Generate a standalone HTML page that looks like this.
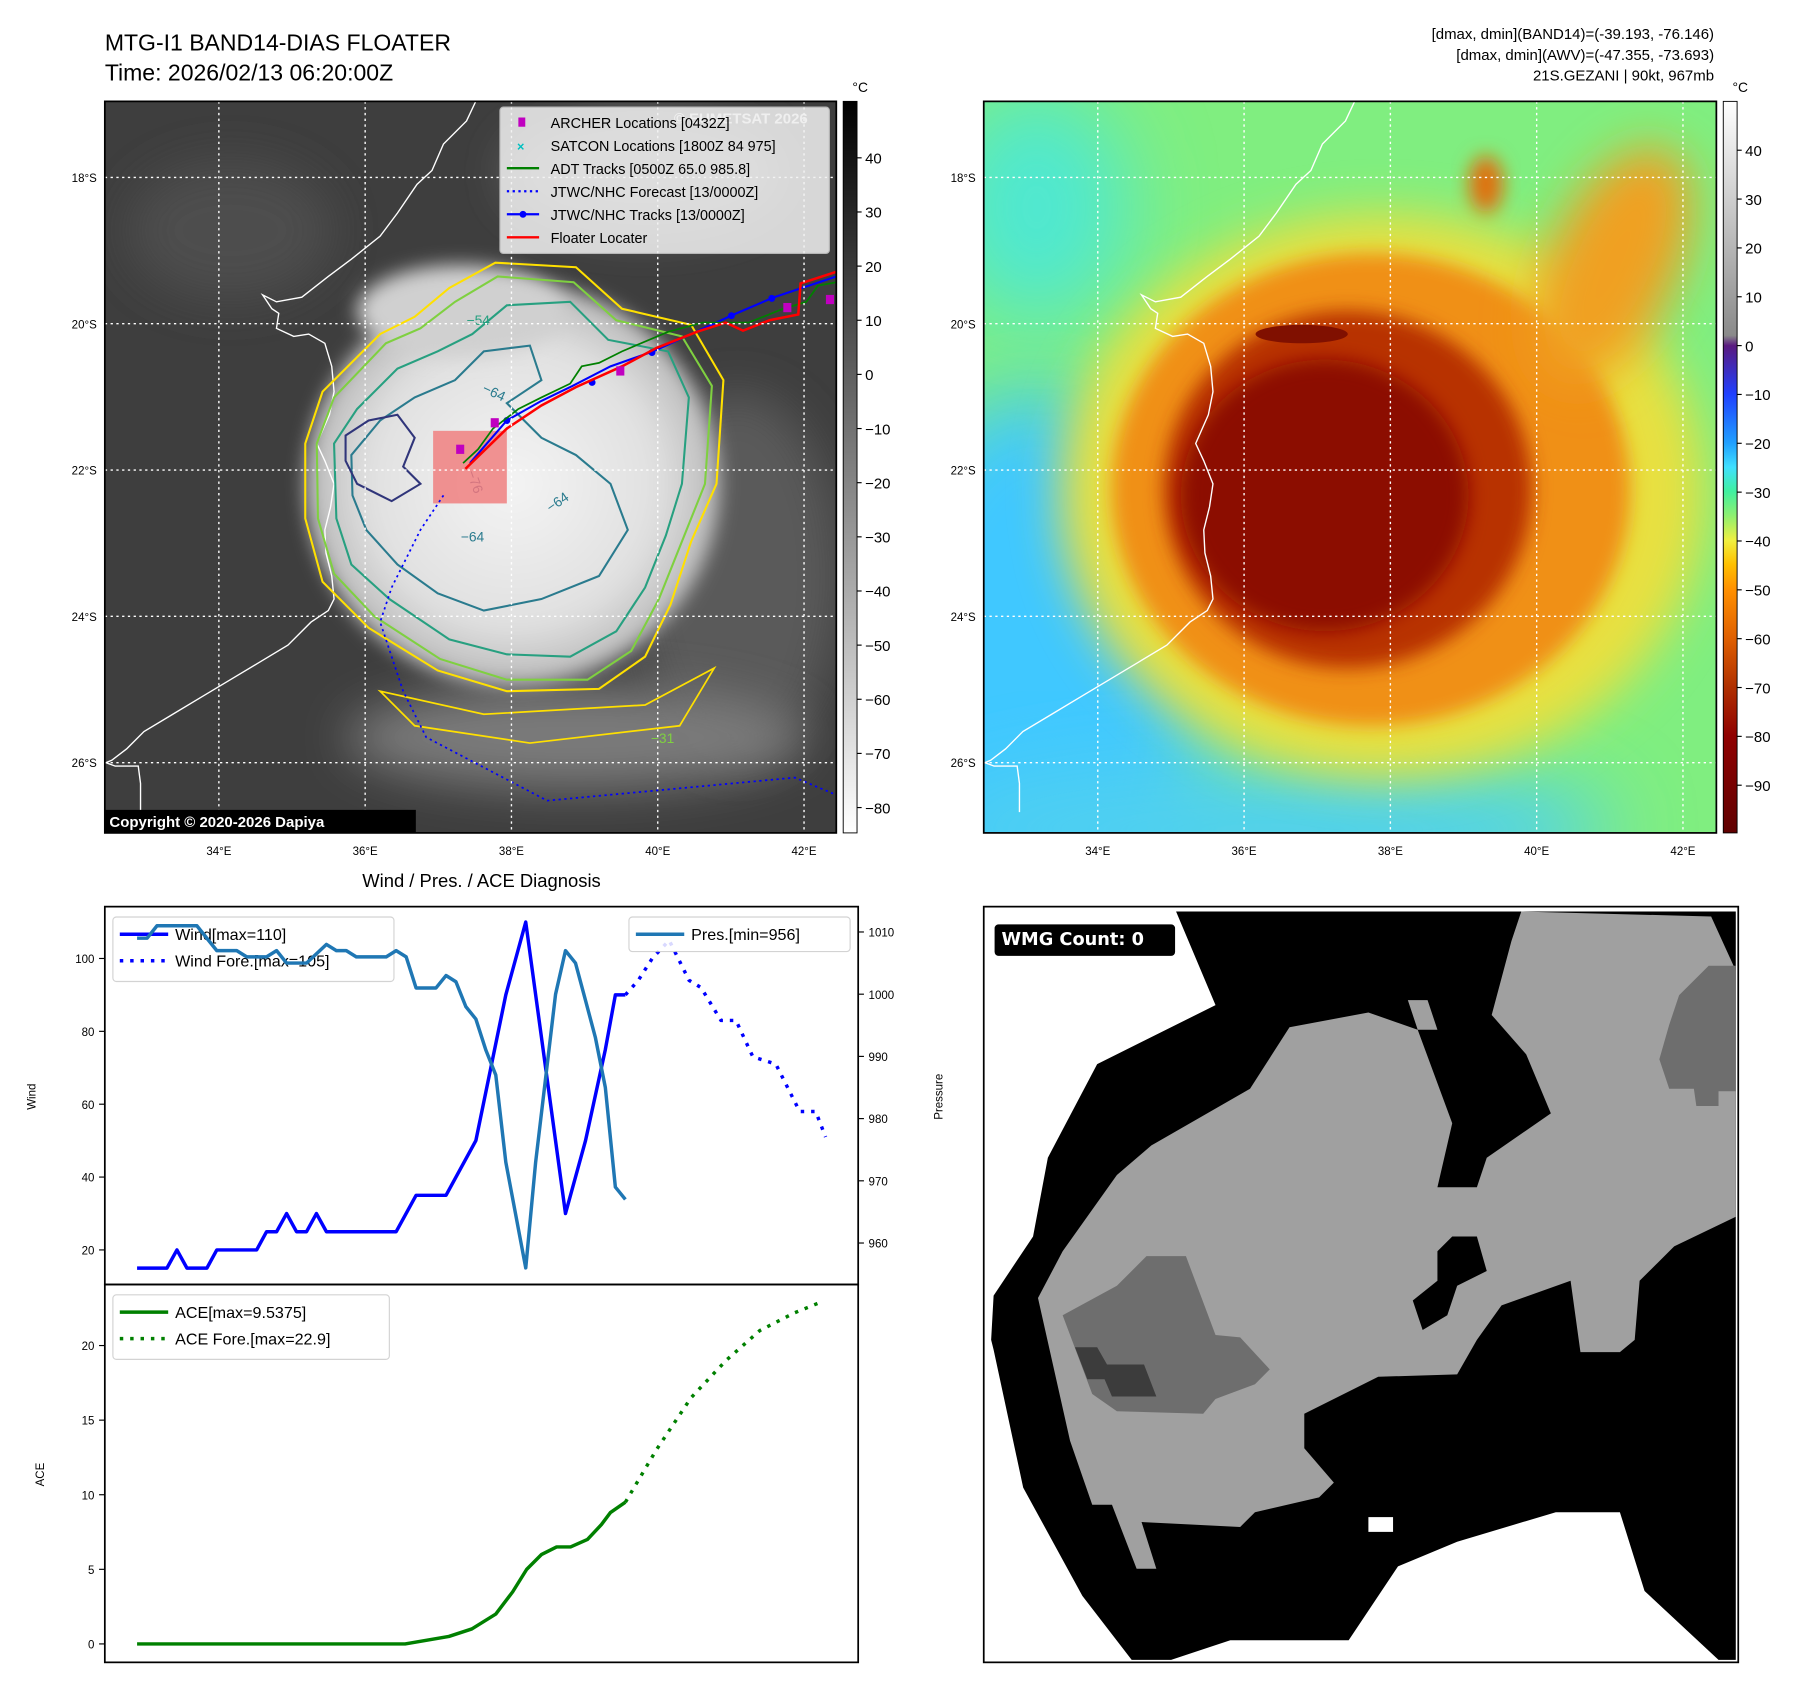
<!DOCTYPE html>
<html><head><meta charset="utf-8">
<style>
html,body{margin:0;padding:0;background:#fff;}
svg{display:block;font-family:"Liberation Sans","DejaVu Sans",sans-serif;}
</style></head>
<body>
<svg id="root" width="1797" height="1690" viewBox="0 0 1560 1467" preserveAspectRatio="none" xmlns="http://www.w3.org/2000/svg">
<defs>
<clipPath id="clipL"><rect x="91" y="88" width="635" height="635"/></clipPath>
<clipPath id="clipR"><rect x="854" y="88" width="636" height="635"/></clipPath>
<clipPath id="clipW"><rect x="91" y="787" width="654" height="328"/></clipPath>
<clipPath id="clipA"><rect x="91" y="1115" width="654" height="328"/></clipPath>
<filter id="b8" x="-50%" y="-50%" width="200%" height="200%"><feGaussianBlur stdDeviation="8"/></filter>
<filter id="b20" x="-50%" y="-50%" width="200%" height="200%"><feGaussianBlur stdDeviation="20"/></filter>
<filter id="b35" x="-50%" y="-50%" width="200%" height="200%"><feGaussianBlur stdDeviation="35"/></filter>
<linearGradient id="cbL" x1="0" y1="0" x2="0" y2="1"><stop offset="0" stop-color="#000"/><stop offset="1" stop-color="#fff"/></linearGradient>
<linearGradient id="cbR" x1="0" y1="0" x2="0" y2="1">
<stop offset="0" stop-color="#ffffff"/><stop offset="0.32" stop-color="#8a8a8a"/><stop offset="0.334" stop-color="#5a1a80"/>
<stop offset="0.4" stop-color="#2040ff"/><stop offset="0.467" stop-color="#20a0ff"/><stop offset="0.5" stop-color="#40e0ff"/>
<stop offset="0.533" stop-color="#40f0a0"/><stop offset="0.567" stop-color="#90f070"/><stop offset="0.6" stop-color="#f0f040"/>
<stop offset="0.633" stop-color="#ffc000"/><stop offset="0.667" stop-color="#ff9000"/><stop offset="0.733" stop-color="#e06000"/>
<stop offset="0.8" stop-color="#b03000"/><stop offset="0.867" stop-color="#900000"/><stop offset="1" stop-color="#600000"/></linearGradient>
<radialGradient id="cloud" cx="0.5" cy="0.5" r="0.5"><stop offset="0" stop-color="#f4f4f4"/><stop offset="0.7" stop-color="#e0e0e0"/><stop offset="1" stop-color="#b8b8b8"/></radialGradient>
<path id="coast" d="M413,88 L405,105 L385,125 L375,148 L362,160 L345,185 L330,205 L305,225 L285,240 L262,258 L240,262 L228,256 L236,268 L242,272 L240,285 L255,292 L268,290 L282,298 L288,318 L290,340 L286,360 L275,385 L282,400 L290,420 L287,440 L282,460 L283,480 L288,500 L290,520 L285,530 L270,540 L250,560 L225,575 L200,590 L175,605 L150,620 L125,635 L110,650 L97,660 L92,662 L100,665 L120,665 L122,680 L122,705" fill="none" stroke="#fff" stroke-width="1.2"/>
</defs>

<text x="91" y="44" font-size="20">MTG-I1 BAND14-DIAS FLOATER</text>
<text x="91" y="70" font-size="20">Time: 2026/02/13 06:20:00Z</text>
<text x="1488" y="34" font-size="13" text-anchor="end">[dmax, dmin](BAND14)=(-39.193, -76.146)</text>
<text x="1488" y="52" font-size="13" text-anchor="end">[dmax, dmin](AWV)=(-47.355, -73.693)</text>
<text x="1488" y="70" font-size="13" text-anchor="end">21S.GEZANI | 90kt, 967mb</text>

<g clip-path="url(#clipL)">
<rect x="91" y="88" width="635" height="635" fill="#3e3e3e"/>
<ellipse cx="200" cy="200" rx="90" ry="60" fill="#4e4e4e" filter="url(#b20)"/>
<ellipse cx="560" cy="150" rx="120" ry="50" fill="#6a6a6a" filter="url(#b20)"/>
<ellipse cx="640" cy="500" rx="90" ry="160" fill="#5a5a5a" filter="url(#b20)"/>
<ellipse cx="500" cy="640" rx="200" ry="45" fill="#7a7a7a" filter="url(#b20)"/>
<ellipse cx="445" cy="420" rx="180" ry="175" fill="url(#cloud)" filter="url(#b8)"/>
<ellipse cx="400" cy="270" rx="90" ry="40" fill="#d0d0d0" filter="url(#b8)"/>
<use href="#coast"/>
<path d="M265,385 L280,340 L330,290 L360,275 L390,250 L430,228 L500,232 L540,268 L600,282 L628,330 L622,420 L600,470 L582,525 L560,570 L520,598 L440,600 L380,582 L320,545 L280,505 L265,450 Z" fill="none" stroke="#ffe000" stroke-width="1.8"/>
<path d="M330,600 L420,620 L560,612 L620,580 L590,630 L460,645 L360,630 Z" fill="none" stroke="#ffe000" stroke-width="1.5"/>
<path d="M275,385 L290,345 L335,298 L365,285 L395,262 L432,240 L498,245 L535,278 L592,292 L618,335 L612,420 L592,470 L572,520 L548,565 L510,590 L440,590 L382,572 L325,535 L290,498 L276,450 Z" fill="none" stroke="#7fd040" stroke-width="1.8"/>
<path d="M290,385 L310,355 L345,320 L380,305 L410,290 L440,265 L495,262 L528,295 L580,305 L598,345 L592,420 L578,465 L560,510 L535,548 L495,570 L440,568 L390,555 L338,520 L305,490 L292,450 Z" fill="none" stroke="#27a080" stroke-width="1.8"/>
<path d="M305,395 L330,365 L360,345 L395,330 L420,305 L460,300 L470,330 L440,350 L470,380 L500,395 L530,420 L545,460 L520,500 L470,520 L420,530 L380,515 L345,490 L318,460 L306,430 Z" fill="none" stroke="#2a7b8e" stroke-width="1.8"/>
<path d="M300,378 L320,365 L345,360 L360,380 L350,405 L365,420 L340,435 L310,420 L300,400 Z" fill="none" stroke="#30357a" stroke-width="1.8"/>
<text x="405" y="282" font-size="12" fill="#27a080">−54</text>
<text x="418" y="340" font-size="12" fill="#2a7b8e" transform="rotate(25 418 340)">−64</text>
<text x="400" y="470" font-size="12" fill="#2a7b8e">−64</text>
<text x="478" y="445" font-size="12" fill="#2a7b8e" transform="rotate(-35 478 445)">−64</text>
<text x="405" y="410" font-size="12" fill="#30357a" transform="rotate(70 405 410)">−76</text>
<text x="565" y="645" font-size="12" fill="#7fd040">−31</text>
<rect x="376" y="374" width="64" height="63" fill="#f08080" opacity="0.85"/>
<path d="M385,430 L365,460 L340,510 L330,540 L350,600 L370,640 L475,695 L690,675 L726,690" fill="none" stroke="#0000ff" stroke-width="1.5" stroke-dasharray="2,3"/>
<path d="M408,402 L440,365 L470,348 L497,335 L530,318 L567,305 L600,290 L637,273 L672,258 L726,240" fill="none" stroke="#0000ff" stroke-width="1.8"/>
<g fill="#0000ff"><circle cx="440" cy="365" r="3"/><circle cx="514" cy="332" r="3"/><circle cx="566" cy="306" r="3"/><circle cx="635" cy="274" r="3"/><circle cx="670" cy="259" r="3"/></g>
<path d="M402,402 L415,390 L428,372 L450,355 L470,345 L495,333 L505,318 L520,315 L540,305 L580,288 L610,280 L650,280 L680,268 L700,262 L710,248 L726,245" fill="none" stroke="#008000" stroke-width="1.5"/>
<path d="M404,407 L440,372 L470,352 L500,336 L540,318 L570,302 L605,288 L630,280 L645,287 L668,278 L693,273 L695,246 L726,236" fill="none" stroke="#ff0000" stroke-width="2.2"/>
<g fill="#c000c0"><rect x="396" y="386" width="7" height="8"/><rect x="426" y="363" width="7" height="8"/><rect x="535" y="318" width="7" height="8"/><rect x="680" y="263" width="7" height="8"/><rect x="717" y="256" width="7" height="8"/></g>
</g>
<g stroke="#fff" stroke-width="1.2" stroke-dasharray="2,3">
<line x1="190" y1="88" x2="190" y2="723"/><line x1="317" y1="88" x2="317" y2="723"/><line x1="444" y1="88" x2="444" y2="723"/><line x1="571" y1="88" x2="571" y2="723"/><line x1="698" y1="88" x2="698" y2="723"/>
<line x1="91" y1="154" x2="726" y2="154"/><line x1="91" y1="281" x2="726" y2="281"/><line x1="91" y1="408" x2="726" y2="408"/><line x1="91" y1="535" x2="726" y2="535"/><line x1="91" y1="662" x2="726" y2="662"/>
</g>
<text x="585" y="107" font-size="13" font-weight="bold" fill="#f4f4f4" opacity="0.9">© EUMETSAT 2026</text>
<g>
<rect x="434" y="93" width="286" height="127" rx="3" fill="#f2f2f2" opacity="0.85" stroke="#ccc"/>
<rect x="450" y="102" width="6" height="8" fill="#c000c0"/>
<text x="452" y="131" font-size="11" fill="#00c0c0" text-anchor="middle" font-weight="bold">×</text>
<line x1="440" y1="146" x2="468" y2="146" stroke="#008000" stroke-width="2"/>
<line x1="440" y1="166" x2="468" y2="166" stroke="#0000ff" stroke-width="2" stroke-dasharray="2,3"/>
<line x1="440" y1="186" x2="468" y2="186" stroke="#0000ff" stroke-width="2"/><circle cx="454" cy="186" r="3" fill="#0000ff"/>
<line x1="440" y1="206" x2="468" y2="206" stroke="#ff0000" stroke-width="2"/>
<g font-size="12.5">
<text x="478" y="111">ARCHER Locations [0432Z]</text>
<text x="478" y="131">SATCON Locations [1800Z 84 975]</text>
<text x="478" y="151">ADT Tracks [0500Z 65.0 985.8]</text>
<text x="478" y="171">JTWC/NHC Forecast [13/0000Z]</text>
<text x="478" y="191">JTWC/NHC Tracks [13/0000Z]</text>
<text x="478" y="211">Floater Locater</text>
</g></g>
<rect x="91" y="88" width="635" height="635" fill="none" stroke="#000" stroke-width="1.5"/>
<rect x="91" y="703" width="270" height="20" fill="#000"/>
<text x="95" y="718" font-size="13" font-weight="bold" fill="#fff">Copyright © 2020-2026 Dapiya</text>
<g font-size="10">
<text x="84" y="158" text-anchor="end">18°S</text><text x="84" y="285" text-anchor="end">20°S</text><text x="84" y="412" text-anchor="end">22°S</text><text x="84" y="539" text-anchor="end">24°S</text><text x="84" y="666" text-anchor="end">26°S</text>
<text x="190" y="742" text-anchor="middle">34°E</text><text x="317" y="742" text-anchor="middle">36°E</text><text x="444" y="742" text-anchor="middle">38°E</text><text x="571" y="742" text-anchor="middle">40°E</text><text x="698" y="742" text-anchor="middle">42°E</text>
</g>
<rect x="732" y="88" width="12" height="635" fill="url(#cbL)" stroke="#000" stroke-width="0.8"/>
<text x="740" y="80" font-size="12">°C</text>
<g id="cbLticks" font-size="13"></g>

<g clip-path="url(#clipR)">
<rect x="854" y="88" width="636" height="635" fill="#80ee80"/>
<ellipse cx="900" cy="600" rx="150" ry="260" fill="#40c8ff" filter="url(#b35)"/>
<ellipse cx="1100" cy="720" rx="300" ry="60" fill="#50d0f0" filter="url(#b35)"/>
<ellipse cx="900" cy="180" rx="80" ry="100" fill="#50e8d0" filter="url(#b35)"/>
<ellipse cx="1200" cy="430" rx="280" ry="245" fill="#e8e040" filter="url(#b20)"/>
<ellipse cx="1190" cy="425" rx="225" ry="205" fill="#f09018" filter="url(#b8)"/>
<ellipse cx="1400" cy="230" rx="55" ry="110" fill="#f0a020" filter="url(#b20)" transform="rotate(25 1400 230)"/>
<ellipse cx="1290" cy="160" rx="15" ry="25" fill="#e07010" filter="url(#b8)"/>
<ellipse cx="1170" cy="425" rx="160" ry="155" fill="#b83200" filter="url(#b8)"/>
<ellipse cx="1150" cy="430" rx="125" ry="118" fill="#8c0800" filter="url(#b8)"/>
<ellipse cx="1130" cy="290" rx="40" ry="8" fill="#801000"/>
<use href="#coast" transform="translate(763,0)"/>
</g>
<g stroke="#fff" stroke-width="1.2" stroke-dasharray="2,3">
<line x1="953" y1="88" x2="953" y2="723"/><line x1="1080" y1="88" x2="1080" y2="723"/><line x1="1207" y1="88" x2="1207" y2="723"/><line x1="1334" y1="88" x2="1334" y2="723"/><line x1="1461" y1="88" x2="1461" y2="723"/>
<line x1="854" y1="154" x2="1490" y2="154"/><line x1="854" y1="281" x2="1490" y2="281"/><line x1="854" y1="408" x2="1490" y2="408"/><line x1="854" y1="535" x2="1490" y2="535"/><line x1="854" y1="662" x2="1490" y2="662"/>
</g>
<rect x="854" y="88" width="636" height="635" fill="none" stroke="#000" stroke-width="1.5"/>
<g font-size="10">
<text x="847" y="158" text-anchor="end">18°S</text><text x="847" y="285" text-anchor="end">20°S</text><text x="847" y="412" text-anchor="end">22°S</text><text x="847" y="539" text-anchor="end">24°S</text><text x="847" y="666" text-anchor="end">26°S</text>
<text x="953" y="742" text-anchor="middle">34°E</text><text x="1080" y="742" text-anchor="middle">36°E</text><text x="1207" y="742" text-anchor="middle">38°E</text><text x="1334" y="742" text-anchor="middle">40°E</text><text x="1461" y="742" text-anchor="middle">42°E</text>
</g>
<rect x="1496" y="88" width="12" height="635" fill="url(#cbR)" stroke="#000" stroke-width="0.8"/>
<text x="1504" y="80" font-size="12">°C</text>
<g id="cbRticks" font-size="13"></g>

<svg x="854" y="787" width="655" height="656" viewBox="0 0 1530 1535" preserveAspectRatio="none">
<rect x="0" y="0" width="1530" height="1535" fill="#fff"/>
<polygon fill="#000" points="390,10 1525,10 1525,1530 1490,1530 1340,1390 1290,1230 1160,1230 960,1290 840,1340 740,1490 500,1490 380,1530 300,1530 200,1400 80,1180 20,900 15,880 20,790 100,670 130,510 230,320 470,200"/>
<polygon fill="#a0a0a0" points="1090,10 1475,20 1525,130 1525,630 1400,690 1330,760 1320,880 1290,905 1210,905 1190,760 1050,810 1000,880 960,950 800,955 650,1030 650,1100 710,1170 680,1200 550,1230 520,1260 320,1250 350,1345 310,1345 260,1215 220,1215 175,1085 110,795 160,700 270,545 340,485 540,370 620,245 780,215 880,250 950,440 920,570 1000,570 1020,510 1150,420 1100,300 1030,220 1070,70"/>
<polygon fill="#000" points="950,670 1000,670 1020,740 960,770 940,830 890,860 870,800 920,760 920,700"/>
<polygon fill="#a0a0a0" points="860,190 900,190 920,250 880,250"/>
<polygon fill="#6e6e6e" points="160,830 270,770 300,740 330,710 410,710 470,870 520,875 580,940 550,970 470,1000 445,1030 270,1025 220,990"/>
<polygon fill="#3c3c3c" points="185,895 230,895 250,930 325,930 350,995 260,995 245,960 210,960"/>
<polygon fill="#6e6e6e" points="1470,120 1525,120 1525,375 1490,375 1490,405 1445,405 1440,370 1390,370 1370,310 1390,240 1410,180 1440,150"/>
<rect x="780" y="1240" width="50" height="30" fill="#fff"/>
<rect x="22" y="36" width="366" height="64" rx="8" fill="#000"/>
<text x="36" y="78" font-size="36" font-weight="bold" fill="#fff" font-family="DejaVu Sans, sans-serif">WMG Count: 0</text>
</svg>
<rect x="854" y="787" width="655" height="656" fill="none" stroke="#000" stroke-width="1.5"/>

<text x="418" y="770" font-size="16" text-anchor="middle">Wind / Pres. / ACE Diagnosis</text>
<g id="chart"></g>
<rect x="91" y="787" width="654" height="328" fill="none" stroke="#000" stroke-width="1.5"/>
<rect x="91" y="1115" width="654" height="328" fill="none" stroke="#000" stroke-width="1.5"/>
<text transform="translate(31,952) rotate(-90)" font-size="10" text-anchor="middle">Wind</text>
<text transform="translate(818,952) rotate(-90)" font-size="10" text-anchor="middle">Pressure</text>
<text transform="translate(38,1280) rotate(-90)" font-size="10" text-anchor="middle">ACE</text>
</svg>
<script>
const windT=[0,3,4,5,7,8,12,13,14,15,16,17,18,19,26,28,31,34,37,39,43,45,47,48,49];
const windV=[15,15,20,15,15,20,20,25,25,30,25,25,30,25,25,35,35,50,90,110,30,50,75,90,90];
const windFT=[49,50.3,51.7,53.4,55.4,56.6,58.6,60.1,61.8,64.1,66.5,68.1,69.1];
const windFV=[90,94,100,105,94,92,83,83,73,71,58,58,51];
const presT=[0,1,2,6,8,10,11,13,14,15,17,19,20,21,22,25,26,27,28,30,31,32,33,34,35,36,37,39,40,42,43,44,45,46,47,48,49];
const presV=[1009,1009,1011,1011,1007,1007,1006,1006,1007,1005,1005,1008,1007,1007,1006,1006,1007,1006,1001,1001,1003,1002,998,996,991,987,973,956,973,1000,1007,1005,999,993,985,969,967];
const aceT=[0,26.9,31.3,33.6,36,37.7,39.1,40.6,42.1,43.5,45.2,46.6,47.5,49];
const aceV=[0,0,0.5,1,2,3.5,5,6,6.5,6.5,7,8,8.8,9.5];
const aceFT=[49,52.1,55.6,59.1,62.5,66,68.6];
const aceFV=[9.5,13,16.5,19,21,22.2,22.9];
const windTicks=[20,40,60,80,100];
const presTicks=[960,970,980,990,1000,1010];
const aceTicks=[0,5,10,15,20];
const cbLTicks=[40,30,20,10,0,-10,-20,-30,-40,-50,-60,-70,-80];
const cbRTicks=[40,30,20,10,0,-10,-20,-30,-40,-50,-60,-70,-80,-90];

const NS='http://www.w3.org/2000/svg';
const xs=t=>119+t*8.65;
const yw=v=>1085-(v-20)*3.1625;
const yp=p=>1079-(p-960)*5.4;
const ya=v=>1427-v*12.95;
function mk(tag,attrs,parent){const e=document.createElementNS(NS,tag);for(const k in attrs)e.setAttribute(k,attrs[k]);parent.appendChild(e);return e;}
const chart=document.getElementById('chart');
function line(T,V,fy,color,dash,clip,name){
  const d=T.map((t,i)=>(i?'L':'M')+xs(t).toFixed(1)+','+fy(V[i]).toFixed(1)).join(' ');
  const p=mk('path',{d:d,fill:'none',stroke:color,'stroke-width':3,'stroke-linejoin':'round','clip-path':'url(#'+clip+')'},chart);
  if(dash)p.setAttribute('stroke-dasharray',dash);
  
  
}
windTicks.forEach(v=>{mk('line',{x1:86,x2:91,y1:yw(v),y2:yw(v),stroke:'#000'},chart);const t=mk('text',{x:82,y:yw(v)+4,'font-size':10,'text-anchor':'end'},chart);t.textContent=v;});
presTicks.forEach(v=>{mk('line',{x1:745,x2:750,y1:yp(v),y2:yp(v),stroke:'#000'},chart);const t=mk('text',{x:754,y:yp(v)+4,'font-size':10},chart);t.textContent=v;});
aceTicks.forEach(v=>{mk('line',{x1:86,x2:91,y1:ya(v),y2:ya(v),stroke:'#000'},chart);const t=mk('text',{x:82,y:ya(v)+4,'font-size':10,'text-anchor':'end'},chart);t.textContent=v;});
line(windT,windV,yw,'#0000ff',null,'clipW','wind-line');
line(windFT,windFV,yw,'#0000ff','3,6','clipW','wind-forecast-line');
const lg=mk('g',{},chart);


mk('rect',{x:98,y:796,width:244,height:56,rx:3,fill:'#fff',opacity:0.85,stroke:'#ccc'},lg);
mk('line',{x1:104,x2:146,y1:811,y2:811,stroke:'#0000ff','stroke-width':3},lg);
mk('line',{x1:104,x2:146,y1:834,y2:834,stroke:'#0000ff','stroke-width':3,'stroke-dasharray':'3,6'},lg);
let t=mk('text',{x:152,y:816,'font-size':14},lg);t.textContent='Wind[max=110]';
t=mk('text',{x:152,y:839,'font-size':14},lg);t.textContent='Wind Fore.[max=105]';
line(presT,presV,yp,'#1f77b4',null,'clipW','pressure-line');
const lg2=mk('g',{},chart);


mk('rect',{x:546,y:796,width:192,height:30,rx:3,fill:'#fff',opacity:0.85,stroke:'#ccc'},lg2);
mk('line',{x1:552,x2:594,y1:811,y2:811,stroke:'#1f77b4','stroke-width':3},lg2);
t=mk('text',{x:600,y:816,'font-size':14},lg2);t.textContent='Pres.[min=956]';
line(aceT,aceV,ya,'#008000',null,'clipA','ace-line');
line(aceFT,aceFV,ya,'#008000','3,6','clipA','ace-forecast-line');
const lg3=mk('g',{},chart);


mk('rect',{x:98,y:1124,width:240,height:56,rx:3,fill:'#fff',opacity:0.85,stroke:'#ccc'},lg3);
mk('line',{x1:104,x2:146,y1:1139,y2:1139,stroke:'#008000','stroke-width':3},lg3);
mk('line',{x1:104,x2:146,y1:1162,y2:1162,stroke:'#008000','stroke-width':3,'stroke-dasharray':'3,6'},lg3);
t=mk('text',{x:152,y:1144,'font-size':14},lg3);t.textContent='ACE[max=9.5375]';
t=mk('text',{x:152,y:1167,'font-size':14},lg3);t.textContent='ACE Fore.[max=22.9]';
const gL=document.getElementById('cbLticks');
cbLTicks.forEach(v=>{const y=137+(40-v)*4.7;mk('line',{x1:744,x2:748,y1:y,y2:y,stroke:'#000'},gL);const e=mk('text',{x:751,y:y+5},gL);e.textContent=v<0?'−'+(-v):v;});
const gR=document.getElementById('cbRticks');
cbRTicks.forEach(v=>{const y=300-v*4.24;mk('line',{x1:1508,x2:1512,y1:y,y2:y,stroke:'#000'},gR);const e=mk('text',{x:1515,y:y+5},gR);e.textContent=v<0?'−'+(-v):v;});
</script>
</body></html>
